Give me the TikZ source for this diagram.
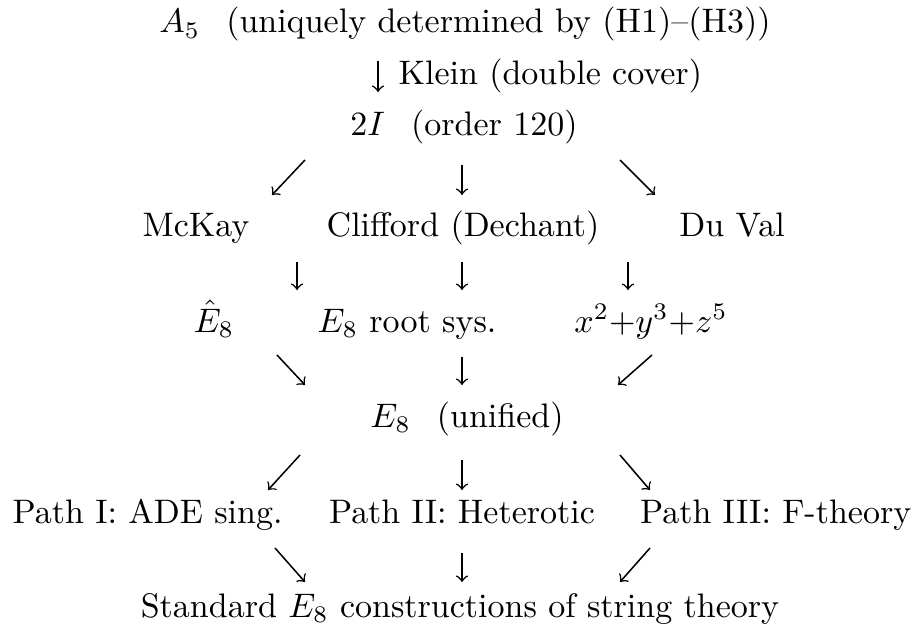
\documentclass[tikz,border=0pt]{standalone}
\usepackage{amsmath,amssymb}
\begin{document}
\begin{tikzpicture}[x=0.2941pt,y=-0.2941pt,
  arr/.style={-to,line width=0.45pt},
  txt/.style={inner sep=0pt,anchor=base}]
\useasboundingbox (0,0) rectangle (916,637);

\node[txt] (a5) at (465,33) {$A_5$\hspace{7.7pt}(uniquely determined by (H1)--(H3))};
\coordinate (k1) at (378,61);
\coordinate (k2) at (378,92);
\draw[arr] (k1) -- (k2);
\node[txt,anchor=base west] (klein) at (398,85) {Klein (double cover)};
\node[txt] (twoI) at (464,136) {$2I$\hspace{7.7pt}(order 120)};

% 2I -> three routes
\coordinate (r1a) at (305,160); \coordinate (r1b) at (272,195);
\coordinate (r2a) at (462,165); \coordinate (r2b) at (462,195);
\coordinate (r3a) at (620,160); \coordinate (r3b) at (655,195);
\draw[arr] (r1a) -- (r1b);
\draw[arr] (r2a) -- (r2b);
\draw[arr] (r3a) -- (r3b);

\node[txt] (mckay) at (196,236) {McKay};
\node[txt] (cliff) at (463,236) {Clifford (Dechant)};
\node[txt] (duval) at (732,236) {Du Val};

\coordinate (s1a) at (297,262); \coordinate (s1b) at (297,290);
\coordinate (s2a) at (462,262); \coordinate (s2b) at (462,290);
\coordinate (s3a) at (628,262); \coordinate (s3b) at (628,290);
\draw[arr] (s1a) -- (s1b);
\draw[arr] (s2a) -- (s2b);
\draw[arr] (s3a) -- (s3b);

\node[txt] (ehat) at (214,332) {$\hat{E}_8$};
\node[txt,anchor=base west] (roots) at (317,332) {$E_8$ root sys.};
\node[txt] (sing) at (651,332) {$x^2{+}y^3{+}z^5$};

% merge into E8
\coordinate (m1a) at (277,355); \coordinate (m1b) at (305,385);
\coordinate (m2a) at (462,357); \coordinate (m2b) at (462,385);
\coordinate (m3a) at (652,355); \coordinate (m3b) at (618,385);
\draw[arr] (m1a) -- (m1b);
\draw[arr] (m2a) -- (m2b);
\draw[arr] (m3a) -- (m3b);

\node[txt] (eeight) at (467,427) {$E_8$\hspace{7.7pt}(unified)};

\coordinate (p1a) at (300,455); \coordinate (p1b) at (268,490);
\coordinate (p2a) at (462,460); \coordinate (p2b) at (462,490);
\coordinate (p3a) at (620,455); \coordinate (p3b) at (650,490);
\draw[arr] (p1a) -- (p1b);
\draw[arr] (p2a) -- (p2b);
\draw[arr] (p3a) -- (p3b);

\node[txt,anchor=base west] (pathI) at (12,523) {Path I: ADE sing.};
\node[txt] (pathII) at (462,523) {Path II: Heterotic};
\node[txt,anchor=base east] (pathIII) at (912,523) {Path III: F-theory};

\coordinate (q1a) at (275,548); \coordinate (q1b) at (305,582);
\coordinate (q2a) at (462,553); \coordinate (q2b) at (462,582);
\coordinate (q3a) at (650,548); \coordinate (q3b) at (620,582);
\draw[arr] (q1a) -- (q1b);
\draw[arr] (q2a) -- (q2b);
\draw[arr] (q3a) -- (q3b);

\node[txt] (std) at (460,617) {Standard $E_8$ constructions of string theory};
\end{tikzpicture}
\end{document}
